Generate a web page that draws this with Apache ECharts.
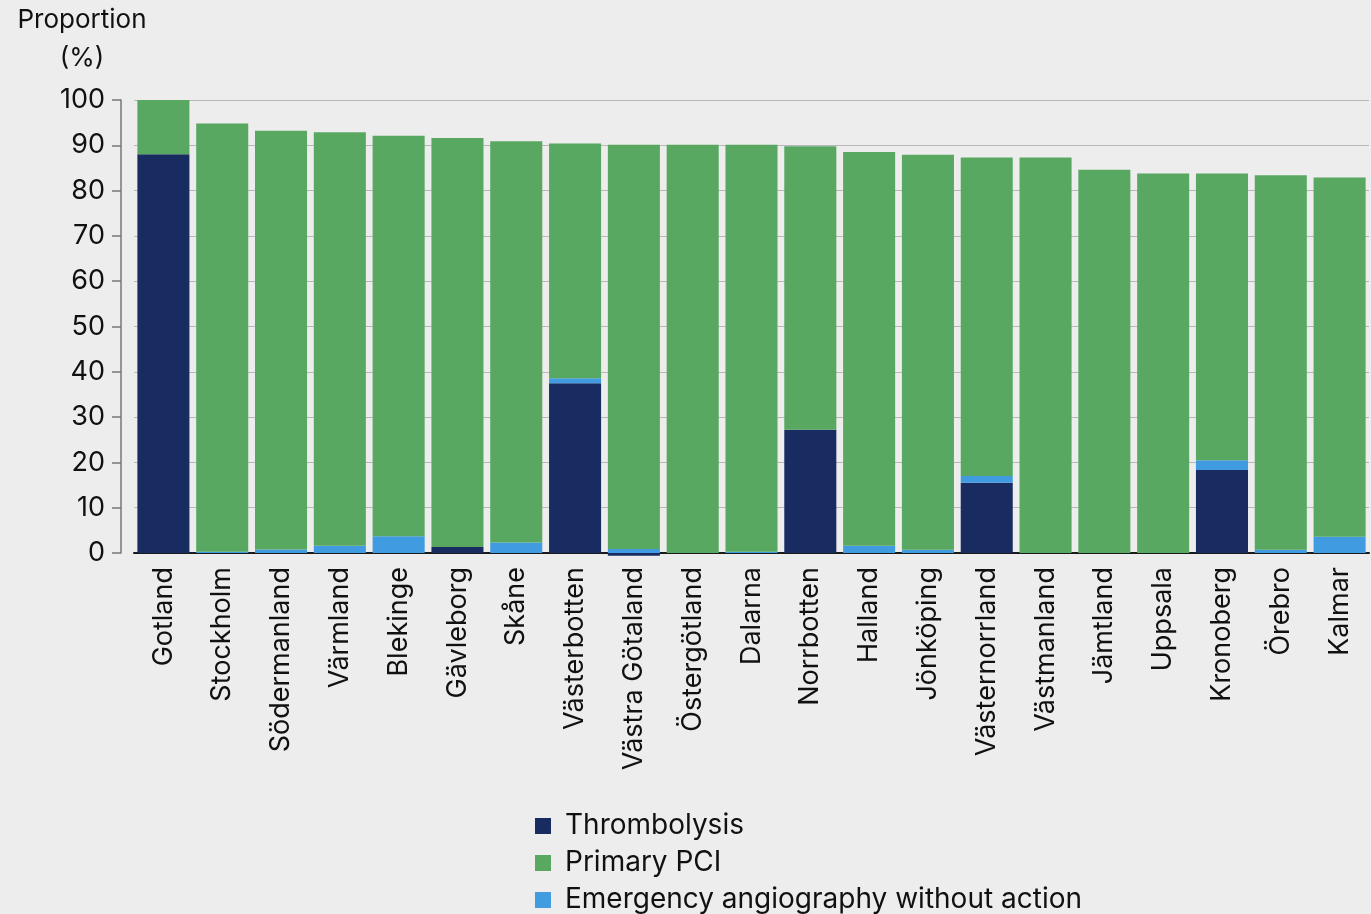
<!doctype html>
<html lang="en">
<head>
<meta charset="UTF-8">
<title>Proportion</title>
<script src="https://cdn.jsdelivr.net/npm/echarts@6/dist/echarts.min.js"></script>
<style>
  html, body { margin: 0; padding: 0; background: #ededed; }
  #main { width: 1371px; height: 914px; }
</style>
</head>
<body>
<div id="main"></div>
<script>
// regions, sorted by total
var categories = ['Gotland', 'Stockholm', 'Södermanland', 'Värmland', 'Blekinge', 'Gävleborg', 'Skåne',
    'Västerbotten', 'Västra Götaland', 'Östergötland', 'Dalarna', 'Norrbotten', 'Halland', 'Jönköping',
    'Västernorrland', 'Västmanland', 'Jämtland', 'Uppsala', 'Kronoberg', 'Örebro', 'Kalmar'];
var thrombolysis = [88, 0, 0, 0, 0, 1.3, 0, 37.5, -0.6, 0, 0, 27.2, 0, 0, 15.5, 0, 0, 0, 18.3, 0, 0];
var angiography = [0, 0.3, 0.8, 1.6, 3.7, 0, 2.3, 1.1, 0.9, 0, 0.3, 0, 1.6, 0.7, 1.5, 0, 0, 0, 2.2, 0.7, 3.6];
var primaryPci = [12, 94.5, 92.4, 91.3, 88.4, 90.3, 88.6, 51.8, 89.2, 90.1, 89.8, 62.6, 86.9, 87.2, 70.3, 87.3, 84.6, 83.8, 63.3, 82.7, 79.3];
var yTicks = { min: 0, max: 100, interval: 10 };

var FONT = 'Inter';
var myChart = echarts.init(document.getElementById('main'));

var option = {
    backgroundColor: '#ededed',
    textStyle: { fontFamily: FONT },
    legend: {
        orient: 'vertical',
        left: 535,
        top: 812,
        height: 110,
        padding: 0,
        itemWidth: 16,
        itemHeight: 16,
        itemGap: 9,
        icon: 'rect',
        data: ['Thrombolysis', 'Primary PCI', 'Emergency angiography without action'],
        textStyle: { fontFamily: FONT, fontSize: 28, lineHeight: 27, color: '#111', padding: [0, 0, 0, 9] }
    },
    grid: { left: 134, right: 2, top: 100, bottom: 361 },
    xAxis: {
        type: 'category',
        data: categories,
        axisLine: { lineStyle: { color: '#1a1a1a', width: 2 } },
        axisTick: { show: false },
        axisLabel: { rotate: 90, margin: 14, fontSize: 27, color: '#111', fontFamily: FONT }
    },
    yAxis: {
        type: 'value',
        min: yTicks.min,
        max: yTicks.max,
        interval: yTicks.interval,
        offset: 13,
        name: 'Proportion\n(%)',
        nameLocation: 'end',
        nameGap: 23,
        nameTextStyle: { fontFamily: FONT, fontSize: 26, color: '#111', align: 'center', lineHeight: 38, padding: [0, 78, 0, 0] },
        axisLine: { show: true, lineStyle: { color: '#777', width: 1.5 } },
        axisTick: { show: true, length: 9, lineStyle: { color: '#777', width: 1.5 } },
        axisLabel: { fontSize: 27, color: '#111', margin: 16, fontFamily: FONT },
        splitLine: { lineStyle: { color: '#b8b8b8', width: 1.2 } }
    },
    series: [
        {
            name: 'Thrombolysis',
            type: 'bar',
            stack: 'total',
            barCategoryGap: '11.5%',
            clip: false,
            itemStyle: { color: '#182c62' },
            data: thrombolysis
        },
        {
            name: 'Emergency angiography without action',
            type: 'bar',
            stack: 'total',
            clip: false,
            itemStyle: { color: '#409be0' },
            data: angiography
        },
        {
            name: 'Primary PCI',
            type: 'bar',
            stack: 'total',
            clip: false,
            itemStyle: { color: '#59a862' },
            data: primaryPci
        }
    ]
};

myChart.setOption(option);
</script>
</body>
</html>
